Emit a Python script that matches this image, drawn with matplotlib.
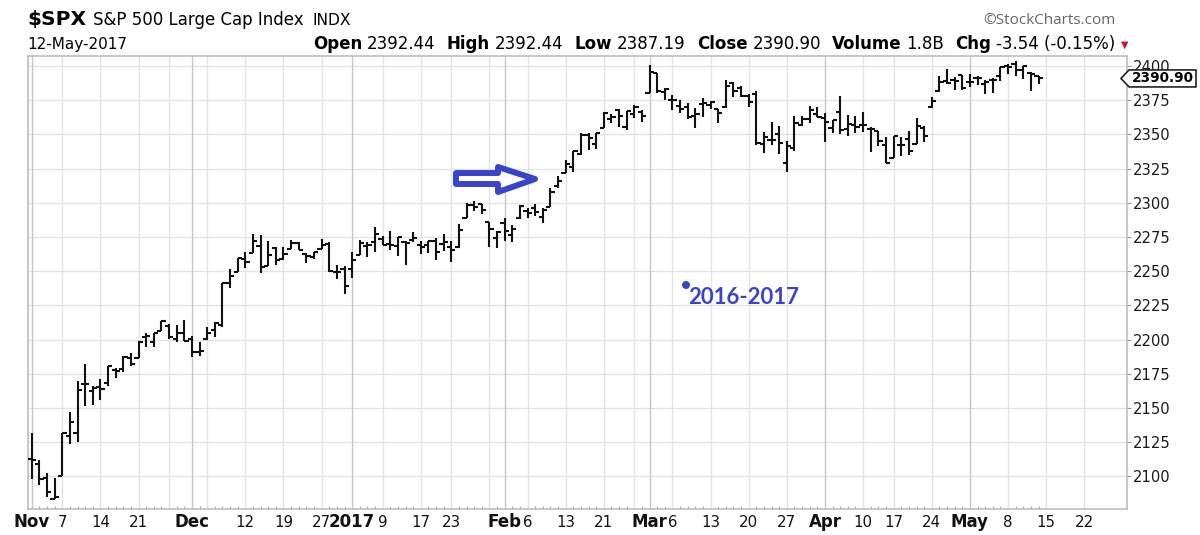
import numpy as np
import pandas as pd
import matplotlib
matplotlib.use('Agg')
import matplotlib.pyplot as plt
from matplotlib.patches import Polygon, Circle
from matplotlib.transforms import IdentityTransform

plt.rcParams['font.family'] = ['DejaVu Sans']

# dias sin mercado
holidays = ['2016-11-24', '2016-12-26', '2017-01-02', '2017-01-16',
            '2017-02-20', '2017-04-14', '2017-05-29']

# OHLC diario del $SPX, 1-nov-2016 a 12-may-2017
opens = [2112.5, 2109.43, 2098.80, 2083.79, 2100.59, 2129.92, 2131.56, 2167.49, 2162.71, 2165.64,
         2168.29, 2177.53, 2178.61, 2186.85, 2186.43, 2201.56, 2198.55, 2206.27, 2210.21, 2200.76, 2204.97,
         2200.17, 2191.12, 2200.65, 2207.26, 2210.72, 2241.13, 2249.73, 2258.83, 2263.32, 2268.35,
         2253.77, 2266.81, 2259.24, 2266.50, 2270.54, 2262.93, 2260.25, 2266.23, 2270.23, 2249.50, 2251.61,
         2251.57, 2261.60, 2268.18, 2271.14, 2273.59, 2269.72, 2268.60, 2271.14, 2272.74, 2269.14,
         2269.14, 2271.90, 2269.96, 2267.78, 2267.88, 2288.88, 2298.63, 2299.02, 2286.01, 2274.02,
         2285.59, 2276.69, 2288.54, 2294.28, 2295.87, 2289.55, 2296.70, 2312.27, 2321.72, 2326.12,
         2335.58, 2349.64, 2343.01, 2354.91, 2361.11, 2367.50, 2355.73, 2365.23, 2366.08,
         2380.13, 2394.75, 2380.92, 2375.23, 2370.74, 2369.81, 2363.49, 2372.52, 2371.56, 2368.55,
         2370.34, 2387.71, 2383.71, 2378.24, 2379.32, 2343.00, 2345.97, 2350.42, 2329.11, 2339.79,
         2356.54, 2361.31, 2364.82,
         2362.34, 2354.76, 2366.59, 2353.79, 2356.59, 2357.16, 2353.92, 2352.15, 2341.98, 2332.62,
         2342.53, 2346.79, 2342.69, 2354.74, 2370.33, 2381.51, 2388.98, 2389.70, 2393.68,
         2388.50, 2391.05, 2386.50, 2389.79, 2392.37, 2399.94, 2401.58, 2396.79, 2394.84, 2392.44]
highs = [2131.45, 2111.76, 2102.56, 2099.07, 2132.00, 2146.87, 2170.10, 2182.30, 2165.92, 2171.36,
         2180.84, 2179.22, 2188.06, 2189.89, 2198.70, 2204.80, 2204.72, 2213.35, 2211.14, 2210.46, 2214.10,
         2202.60, 2197.95, 2209.42, 2212.78, 2241.63, 2251.69, 2259.80, 2264.03, 2277.53, 2276.20,
         2272.12, 2268.05, 2267.47, 2272.56, 2271.23, 2263.18, 2263.79, 2273.82, 2271.31, 2254.51, 2253.58,
         2263.88, 2272.82, 2271.50, 2282.10, 2275.49, 2279.27, 2275.32, 2271.78, 2278.68, 2272.08,
         2272.01, 2274.33, 2276.96, 2271.78, 2284.63, 2299.55, 2300.99, 2299.02, 2286.01, 2279.09,
         2289.14, 2283.97, 2298.31, 2296.18, 2299.40, 2295.91, 2311.08, 2319.23, 2331.58, 2337.58,
         2351.30, 2351.31, 2351.16, 2366.71, 2365.13, 2368.26, 2367.34, 2371.54, 2367.79,
         2400.98, 2394.75, 2383.89, 2378.80, 2375.12, 2373.09, 2369.08, 2376.86, 2374.42, 2368.55,
         2390.01, 2388.10, 2385.71, 2379.55, 2381.93, 2351.81, 2358.92, 2356.22, 2344.90, 2363.78,
         2363.36, 2370.42, 2370.35,
         2365.87, 2360.53, 2378.36, 2364.16, 2363.76, 2366.37, 2355.22, 2352.72, 2348.26, 2349.14,
         2348.35, 2352.63, 2361.92, 2356.18, 2376.98, 2392.48, 2398.16, 2392.10, 2393.68,
         2394.49, 2392.93, 2389.82, 2391.43, 2399.29, 2401.36, 2403.87, 2399.74, 2395.72, 2392.44]
lows = [2097.85, 2094.00, 2085.23, 2083.79, 2100.59, 2123.56, 2125.35, 2151.17, 2152.49, 2156.08,
        2166.38, 2172.20, 2176.65, 2180.38, 2186.43, 2194.51, 2194.51, 2206.27, 2200.36, 2198.15, 2198.81,
        2187.44, 2188.37, 2199.97, 2202.21, 2208.93, 2237.57, 2249.23, 2252.37, 2263.32, 2248.44,
        2253.77, 2254.24, 2258.21, 2266.14, 2265.15, 2256.08, 2258.84, 2266.15, 2249.11, 2244.56, 2233.62,
        2245.13, 2261.60, 2260.45, 2264.06, 2268.90, 2265.27, 2260.83, 2254.25, 2271.51, 2262.81,
        2263.35, 2258.41, 2265.01, 2257.02, 2266.68, 2288.88, 2294.08, 2291.62, 2268.04, 2267.21,
        2272.44, 2271.65, 2287.88, 2288.57, 2290.16, 2285.38, 2296.61, 2311.10, 2321.42, 2322.17,
        2334.81, 2338.87, 2339.58, 2354.91, 2358.34, 2355.09, 2352.87, 2361.87, 2358.96,
        2380.13, 2380.17, 2375.39, 2367.98, 2365.51, 2361.01, 2354.54, 2363.04, 2368.52, 2358.18,
        2368.94, 2377.18, 2377.64, 2369.66, 2341.90, 2336.45, 2342.13, 2335.74, 2322.25, 2337.63,
        2356.21, 2358.58, 2362.60,
        2344.73, 2350.72, 2350.52, 2348.90, 2350.74, 2351.50, 2337.25, 2341.18, 2328.95, 2332.51,
        2334.54, 2335.05, 2342.69, 2344.51, 2369.19, 2381.15, 2386.78, 2382.68, 2382.36,
        2384.83, 2385.82, 2379.75, 2380.35, 2389.38, 2393.92, 2392.44, 2390.40, 2381.74, 2387.19]
closes = [2111.72, 2097.94, 2088.66, 2085.18, 2131.52, 2139.56, 2163.26, 2167.48, 2164.45, 2164.20,
          2180.39, 2176.94, 2187.12, 2181.90, 2198.18, 2202.94, 2204.72, 2213.35, 2201.72, 2204.66, 2198.81,
          2191.08, 2191.95, 2204.71, 2212.23, 2241.35, 2246.19, 2259.53, 2256.96, 2271.72, 2253.28,
          2262.03, 2258.07, 2262.53, 2270.76, 2265.18, 2260.96, 2263.79, 2268.88, 2249.92, 2249.26, 2238.83,
          2257.83, 2270.75, 2269.00, 2276.98, 2268.90, 2268.90, 2275.32, 2270.44, 2274.64, 2267.89,
          2271.89, 2263.69, 2271.31, 2265.20, 2280.07, 2298.37, 2296.68, 2294.69, 2280.90, 2278.87,
          2279.55, 2280.85, 2297.42, 2292.56, 2293.08, 2294.67, 2307.87, 2316.10, 2328.25, 2337.58,
          2349.25, 2347.22, 2351.16, 2365.38, 2362.82, 2363.81, 2367.34, 2369.75, 2363.64,
          2395.96, 2381.92, 2383.12, 2375.31, 2368.39, 2362.98, 2364.87, 2372.60, 2373.47, 2365.45,
          2385.26, 2381.38, 2378.25, 2373.47, 2344.02, 2348.45, 2345.96, 2343.98, 2341.59, 2358.57,
          2361.13, 2368.06, 2362.72,
          2358.84, 2360.16, 2352.95, 2357.49, 2355.54, 2357.16, 2353.78, 2344.93, 2328.95, 2349.01,
          2342.19, 2338.17, 2355.84, 2348.69, 2374.15, 2388.61, 2387.45, 2388.77, 2384.20,
          2388.33, 2391.17, 2388.13, 2389.52, 2399.29, 2399.38, 2396.92, 2399.63, 2394.44, 2390.90]
volume = '1.8B'

tick_dates = ['2016-11-01', '2016-11-07', '2016-11-14', '2016-11-21', '2016-11-28',
              '2016-12-01', '2016-12-05', '2016-12-12', '2016-12-19', '2016-12-27',
              '2017-01-03', '2017-01-09', '2017-01-17', '2017-01-23', '2017-01-30',
              '2017-02-01', '2017-02-06', '2017-02-13', '2017-02-21', '2017-02-27',
              '2017-03-01', '2017-03-06', '2017-03-13', '2017-03-20', '2017-03-27',
              '2017-04-03', '2017-04-10', '2017-04-17', '2017-04-24',
              '2017-05-01', '2017-05-08', '2017-05-15', '2017-05-22']
tick_labels = ['Nov', '7', '14', '21', '',
               'Dec', '', '12', '19', '27',
               '2017', '9', '17', '23', '',
               'Feb', '6', '13', '21', '',
               'Mar', '6', '13', '20', '27',
               'Apr', '10', '17', '24',
               'May', '8', '15', '22']
month_labels = ['Nov', 'Dec', '2017', 'Feb', 'Mar', 'Apr', 'May']

days = pd.bdate_range('2016-11-01', '2017-06-02')
days = days[~days.isin(pd.to_datetime(holidays))]
tick_pos = days.get_indexer(pd.to_datetime(tick_dates))
x = np.arange(len(closes))

W, H = 1200, 535
blue = '#3a44c8'

fig = plt.figure(figsize=(W / 100, H / 100), dpi=100)
ax = fig.add_axes([28 / W, 1 - 509 / H, 1099 / W, 453 / H])
ax.set_xlim(-0.5, 143.6)
ax.set_ylim(2076.2, 2407.3)

#Rejilla
yticks = np.arange(2100, 2401, 25)
for v in yticks:
    ax.axhline(v, color='#e3e3e3', lw=1, zorder=0)
for p, lab in zip(tick_pos, tick_labels):
    ax.axvline(p, color='#c6c6c6' if lab in month_labels else '#e3e3e3', lw=1, zorder=0)

#Barras OHLC
ax.vlines(x, lows, highs, color='#111111', lw=1.5, zorder=3)
ax.hlines(opens, x - 0.55, x, color='#111111', lw=1.5, zorder=3)
ax.hlines(closes, x, x + 0.55, color='#111111', lw=1.5, zorder=3)

for s in ax.spines.values():
    s.set_color('#bdbdbd')
    s.set_linewidth(1.2)

ax.set_xticks(tick_pos)
ax.set_xticklabels(tick_labels)
ax.set_xticks(x, minor=True)
ax.tick_params(axis='x', which='major', length=0, pad=13, labelsize=10.8, labelcolor='#111111')
ax.tick_params(axis='x', which='minor', length=2, direction='in', color='#aaaaaa', width=0.8)
for lbl in ax.get_xticklabels():
    lbl.set_va('baseline')
    if lbl.get_text() in month_labels:
        lbl.set_fontweight('bold')
        lbl.set_fontsize(12)

ax.yaxis.tick_right()
ax.set_yticks(yticks)
ax.tick_params(axis='y', length=3, pad=1.5, color='#999999', labelsize=10.6, labelcolor='#1a1a1a')

#Encabezado
def chain(prev, txt, gap, y, **kw):
    return ax.annotate(txt, xy=(1, y), xycoords=(prev, 'figure fraction'), xytext=(gap, 0),
                       textcoords='offset pixels', va='baseline', ha='left',
                       annotation_clip=False, **kw)

y1 = 1 - 25 / H
t = fig.text(27 / W, y1, '$SPX', fontsize=14.5, fontweight='bold', va='baseline')
t = chain(t, 'S&P 500 Large Cap Index', 7, y1, fontsize=12)
t = chain(t, 'INDX', 9, y1, fontsize=11.2)
fig.text(1115 / W, 1 - 24 / H, '\u00a9StockCharts.com', fontsize=11, color='#666666',
         ha='right', va='baseline', family=['Open Sans', 'DejaVu Sans'])

y2 = 1 - 49 / H
fig.text(27 / W, y2, '12-May-2017', fontsize=11, va='baseline')

chg = closes[-1] - closes[-2]
pct = chg / closes[-2] * 100
header = [('Open', True), ('%.2f' % opens[-1], False),
          ('High', True), ('%.2f' % highs[-1], False),
          ('Low', True), ('%.2f' % lows[-1], False),
          ('Close', True), ('%.2f' % closes[-1], False),
          ('Volume', True), (volume, False),
          ('Chg', True), ('%.2f (%.2f%%)' % (chg, pct), False)]
t = fig.text(313 / W, y2, header[0][0], fontsize=12, fontweight='bold', va='baseline')
for txt, bold in header[1:]:
    t = chain(t, txt, 11 if bold else 5, y2, fontsize=12, fontweight='bold' if bold else 'normal')
t = chain(t, '\u25bc', 6, y2 + 1 / H, fontsize=7, color='#cc1133')

#Etiqueta del ultimo cierre
yc = ax.transData.transform((0, closes[-1]))[1]
tag = Polygon([(1121, yc), (1129, yc + 8.5), (1196, yc + 8.5), (1196, yc - 8.5), (1129, yc - 8.5)],
              closed=True, fc='white', ec='#222222', lw=1.2, transform=IdentityTransform())
fig.add_artist(tag)
fig.text(1163 / W, yc / H, '%.2f' % closes[-1], ha='center', va='center', fontsize=9.8,
         fontweight='bold')

#Flecha azul y texto
arrow_px = [(456, 173), (498, 173), (498, 167), (535, 179), (498, 192), (498, 184), (456, 184)]
arrow = Polygon([(a, H - b) for a, b in arrow_px], closed=True, fc='white', ec=blue, lw=4.3,
                joinstyle='round', transform=IdentityTransform())
fig.add_artist(arrow)
fig.add_artist(Circle((686, H - 285), 4, fc=blue, ec='none', transform=IdentityTransform()))
fig.text(688 / W, 1 - 298 / H, '2016-2017', fontsize=16, fontweight='bold', color=blue,
         va='center', family=['Lato', 'DejaVu Sans'])

fig.savefig('out.png', dpi=100)
